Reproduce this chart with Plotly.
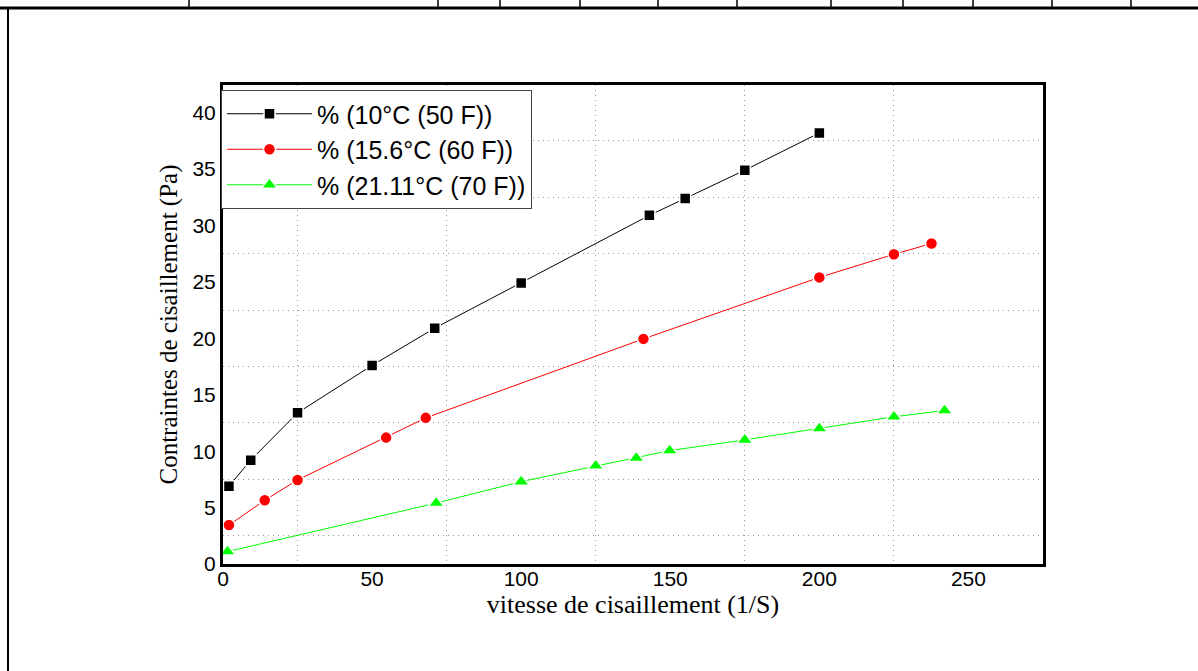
import plotly.graph_objects as go

# ---------------- data ----------------
x_10 = [2, 9.3, 25, 50, 71, 100, 143, 155, 175, 200]
y_10 = [6.9, 9.2, 13.4, 17.6, 20.9, 24.9, 30.9, 32.4, 34.9, 38.2]

x_15 = [2, 14, 25, 54.7, 68, 141, 200, 225, 237.6]
y_15 = [3.45, 5.65, 7.45, 11.2, 12.95, 19.95, 25.4, 27.45, 28.4]

x_21 = [1.5, 71.5, 100, 125, 138.6, 149.8, 175, 200, 225, 242]
y_21 = [1.1, 5.4, 7.3, 8.7, 9.4, 10.05, 11.0, 12.0, 13.05, 13.6]

names = ["% (10°C (50 F))", "% (15.6°C (60 F))", "% (21.11°C (70 F))"]
x_ticks = [0, 50, 100, 150, 200, 250]
y_ticks = [0, 5, 10, 15, 20, 25, 30, 35, 40]

# ---------------- layout constants ----------------
W, H = 1198, 671
L, R, T, B = 223, 1043, 85, 564  # plot area in pixels

def px(x):
    return (x - L) / (R - L)

def py(y):
    return (B - y) / (B - T)

fig = go.Figure()
series = [
    (x_10, y_10, "black", "square", 11),
    (x_15, y_15, "#ff0000", "circle", 12),
    (x_21, y_21, "#00ff00", "triangle-up", 14),
]
for (xs, ys, col, sym, sz), nm in zip(series, names):
    fig.add_trace(go.Scatter(
        x=xs, y=ys, name=nm, mode="lines+markers",
        line=dict(color=col, width=1),
        marker=dict(color=col, symbol=sym, size=sz, line=dict(color="white", width=1.5)),
    ))

axis_common = dict(
    showline=True, linecolor="black", linewidth=3, mirror=True,
    showgrid=False, zeroline=False, ticks="",
    tickfont=dict(family="Liberation Sans, Arial", size=21, color="black"),
)

grid_style = dict(showgrid=True, gridcolor="#9a9a9a", griddash="1px,4px", gridwidth=1, ticks="")

fig.update_xaxes(
    range=[0, 275], tickvals=x_ticks, **axis_common,
    ticklabelstandoff=-6,
    minor=dict(tick0=25, dtick=50, **grid_style),
    title=dict(text="vitesse de cisaillement (1/S)", standoff=2,
               font=dict(family="Liberation Serif, Times New Roman", size=26, color="black")),
)
fig.update_yaxes(
    range=[0, 42.45], tickvals=y_ticks, **axis_common,
    minor=dict(tick0=2.5, dtick=5, **grid_style),
    title=dict(text="Contraintes de cisaillement (Pa)", standoff=8,
               font=dict(family="Liberation Serif, Times New Roman", size=25, color="black")),
)

# page / table border decorations
shapes = [
    dict(type="line", xref="paper", yref="paper", x0=px(0), x1=px(W), y0=py(8), y1=py(8),
         line=dict(color="black", width=3)),
    dict(type="line", xref="paper", yref="paper", x0=px(8), x1=px(8), y0=py(8), y1=py(H),
         line=dict(color="black", width=2)),
]
for vx in [189, 438, 500, 580, 658, 737, 831, 903, 973, 1052, 1131]:
    shapes.append(dict(type="line", xref="paper", yref="paper", x0=px(vx), x1=px(vx),
                       y0=py(0), y1=py(8), line=dict(color="black", width=1.5)))

fig.update_layout(
    width=W, height=H,
    margin=dict(l=L, r=W - R, t=T, b=H - B),
    paper_bgcolor="white", plot_bgcolor="white",
    shapes=shapes,
    legend=dict(
        x=px(221), y=py(90), xanchor="left", yanchor="top",
        bgcolor="white", bordercolor="#444444", borderwidth=1,
        font=dict(family="Liberation Sans, Arial", size=25, color="black"),
        itemwidth=85, tracegroupgap=0,
    ),
    showlegend=True,
)

fig.write_html("out.html")
